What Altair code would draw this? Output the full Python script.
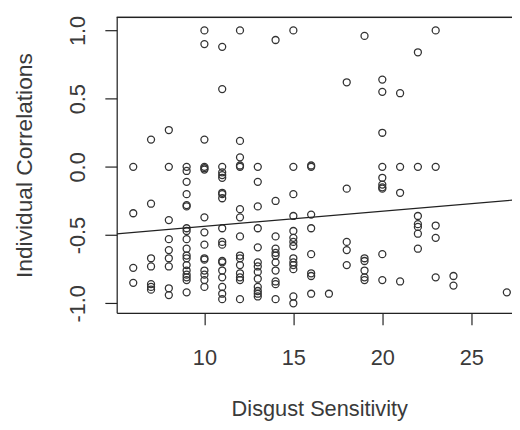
import altair as alt
import pandas as pd

# Disgust sensitivity score (x) and individual correlation (y), read per column
x6 = [0.0, -0.34, -0.74, -0.85]
x7 = [0.2, -0.27, -0.67, -0.73, -0.86, -0.88, -0.9]
x8 = [0.27, 0.0, -0.39, -0.53, -0.61, -0.67, -0.73, -0.89, -0.94]
x9 = [0.0, -0.03, -0.11, -0.2, -0.28, -0.29, -0.45, -0.47, -0.53, -0.6,
      -0.65, -0.67, -0.72, -0.76, -0.79, -0.81, -0.83, -0.92]
x10 = [1.0, 0.9, 0.2, 0.0, -0.01, -0.02, -0.37, -0.48, -0.57, -0.67, -0.68,
       -0.76, -0.79, -0.83, -0.88]
x11 = [0.88, 0.57, 0.0, -0.04, -0.06, -0.08, -0.19, -0.2, -0.23, -0.45, -0.55,
       -0.57, -0.69, -0.7, -0.76, -0.81, -0.88, -0.93, -0.97]
x12 = [1.0, 0.19, 0.07, 0.01, 0.0, -0.31, -0.37, -0.51, -0.65, -0.67, -0.72,
       -0.78, -0.81, -0.83, -0.97]
x13 = [0.0, -0.11, -0.29, -0.45, -0.59, -0.7, -0.73, -0.77, -0.82, -0.88,
       -0.91, -0.93, -0.95]
x14 = [0.93, -0.25, -0.51, -0.6, -0.63, -0.65, -0.7, -0.76, -0.84, -0.86, -0.97]
x15 = [1.0, 0.0, -0.2, -0.36, -0.47, -0.52, -0.55, -0.58, -0.67, -0.7, -0.72,
       -0.75, -0.95, -1.0]
x16 = [0.01, 0.0, -0.35, -0.45, -0.64, -0.78, -0.8, -0.93]
x17 = [-0.93]
x18 = [0.62, -0.16, -0.55, -0.61, -0.72]
x19 = [0.96, -0.67, -0.69, -0.76, -0.81, -0.83]
x20 = [0.64, 0.55, 0.25, 0.0, -0.08, -0.13, -0.15, -0.16, -0.64, -0.83]
x21 = [0.54, 0.0, -0.19, -0.84]
x22 = [0.84, 0.0, -0.36, -0.42, -0.44, -0.49, -0.6]
x23 = [1.0, 0.0, -0.43, -0.52, -0.81]
x24 = [-0.8, -0.87]
x27 = [-0.92]

columns = {6: x6, 7: x7, 8: x8, 9: x9, 10: x10, 11: x11, 12: x12, 13: x13,
           14: x14, 15: x15, 16: x16, 17: x17, 18: x18, 19: x19, 20: x20,
           21: x21, 22: x22, 23: x23, 24: x24, 27: x27}

# fitted line (abline)
line_intercept = -0.547
line_slope = 0.0111

x_ticks = [10, 15, 20, 25]
y_ticks = [-1.0, -0.5, 0.0, 0.5, 1.0]

x_domain = [5.07, 27.29]
y_domain = [-1.07, 1.096]

rows = []
for xv, ys in columns.items():
    for yv in ys:
        rows.append({"x": xv, "y": yv})
pts = pd.DataFrame(rows)

line_df = pd.DataFrame({
    "x": x_domain,
    "y": [line_intercept + line_slope * v for v in x_domain],
})

FONT = "Liberation Sans"
W, H = 400, 299

xscale = alt.Scale(domain=x_domain, nice=False, zero=False)
yscale = alt.Scale(domain=y_domain, nice=False, zero=False)

xaxis = alt.Axis(values=x_ticks, title="Disgust Sensitivity", grid=False,
                 domainColor="#222", domainWidth=1.2, tickColor="#222",
                 tickWidth=1.2, tickSize=12, labelFontSize=22, labelFont=FONT,
                 labelColor="#3a3a3a", labelPadding=23, labelBaseline="top",
                 titleFont=FONT, titleFontSize=22, titleFontWeight="normal",
                 titleColor="#3a3a3a", titleX=205, titleY=104,
                 titleBaseline="alphabetic", titleAlign="center")
yaxis = alt.Axis(values=y_ticks, title="Individual Correlations", grid=False,
                 domainColor="#222", domainWidth=1.2, tickColor="#222",
                 tickWidth=1.2, tickSize=12, labelFontSize=22, labelFont=FONT,
                 labelColor="#3a3a3a", labelPadding=21, labelAngle=270,
                 labelAlign="center", labelBaseline="alphabetic",
                 labelExpr="replace(format(datum.value, '.1f'), '\u2212', '-')",
                 titleFont=FONT, titleFontSize=23, titleFontWeight="normal",
                 titleColor="#3a3a3a", titleAngle=270, titleX=-86, titleY=149.5,
                 titleBaseline="alphabetic", titleAlign="center")

points = alt.Chart(pts).mark_point(shape="circle", filled=False, size=50,
                                   strokeWidth=1.3, color="#333", opacity=1,
                                   clip=True).encode(
    x=alt.X("x:Q", scale=xscale, axis=xaxis),
    y=alt.Y("y:Q", scale=yscale, axis=yaxis),
)

fit = alt.Chart(line_df).mark_line(color="#222", strokeWidth=1.2, clip=True).encode(
    x=alt.X("x:Q", scale=xscale),
    y=alt.Y("y:Q", scale=yscale),
)

top_border = alt.Chart(line_df).mark_rule(color="#222", strokeWidth=1.2).encode(
    x=alt.value(0), x2=alt.value(W), y=alt.value(0)
)

chart = alt.layer(points, fit, top_border).properties(
    width=W, height=H,
    autosize=alt.AutoSizeParams(type="none"),
    padding={"left": 110, "top": 7, "right": 0, "bottom": 108},
).configure_view(stroke=None).configure(background="white")

chart.save("out.html", embed_options={"renderer": "svg", "actions": False})
